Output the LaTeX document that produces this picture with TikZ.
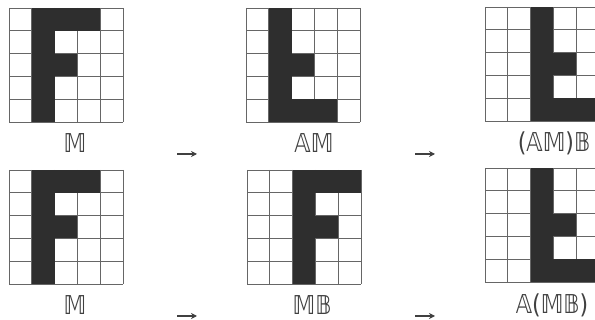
\documentclass[tikz,border=0pt]{standalone}
\usepackage{fontspec}
\setmainfont{DejaVu Sans}
\newfontfamily\dobles[FakeStretch=0.85]{DejaVu Sans}
\usetikzlibrary{arrows.meta}

% lado de una celda
\newcommand{\celda}{22.8}
% rejilla 5x5 con esquina (#1,#2) y celdas negras #3 (col/fila)
\newcommand{\rejilla}[3]{%
  \foreach \i in {0,...,5}{
    \draw (#1+\i*\celda,#2) -- ++(0,5*\celda);
    \draw (#1,#2+\i*\celda) -- ++(5*\celda,0);
  }
  \foreach \c/\f in {#3}
    \fill[black!82] (#1+\c*\celda-\celda,#2+\f*\celda-\celda) rectangle ++(\celda,\celda);
}

\begin{document}
\begin{tikzpicture}[x=1pt, y=-1pt, line width=0.8pt, draw=black!60,
    etiqueta/.style={font=\dobles\fontsize{26}{28}\selectfont, text=black!75, inner sep=0pt},
    flecha/.style={-{Stealth[length=6pt,width=6pt]}, line width=1.2pt, draw=black!75}]
  \clip (0,0) rectangle (595,320);
  \useasboundingbox (0,0) rectangle (595,320);
  % fila de arriba: (AM)B
  \rejilla{9}{8}{2/1,3/1,4/1,2/2,2/3,3/3,2/4,2/5}
  \rejilla{246}{8}{2/1,2/2,2/3,3/3,2/4,2/5,3/5,4/5}
  \rejilla{485}{7}{3/1,3/2,3/3,4/3,3/4,3/5,4/5,5/5}
  \node[etiqueta] (m1) at (75,143) {𝕄};
  \node[etiqueta] (am) at (314,143) {𝔸𝕄};
  \node[etiqueta] (amb) at (554,143) {(𝔸𝕄)𝔹};
  \coordinate (f1a) at (177,154); \coordinate (f1b) at (197,154);
  \coordinate (f2a) at (415,154); \coordinate (f2b) at (435,154);
  \draw[flecha] (f1a) -- (f1b);
  \draw[flecha] (f2a) -- (f2b);
  % fila de abajo: A(MB)
  \rejilla{9}{170}{2/1,3/1,4/1,2/2,2/3,3/3,2/4,2/5}
  \rejilla{247}{170}{3/1,4/1,5/1,3/2,3/3,4/3,3/4,3/5}
  \rejilla{485}{168}{3/1,3/2,3/3,4/3,3/4,3/5,4/5,5/5}
  \node[etiqueta] (m2) at (75,305) {𝕄};
  \node[etiqueta] (mb) at (312,305) {𝕄𝔹};
  \node[etiqueta] (amb2) at (552,305) {𝔸(𝕄𝔹)};
  \coordinate (f3a) at (177,316); \coordinate (f3b) at (197,316);
  \coordinate (f4a) at (415,316); \coordinate (f4b) at (435,316);
  \draw[flecha] (f3a) -- (f3b);
  \draw[flecha] (f4a) -- (f4b);
\end{tikzpicture}
\end{document}
